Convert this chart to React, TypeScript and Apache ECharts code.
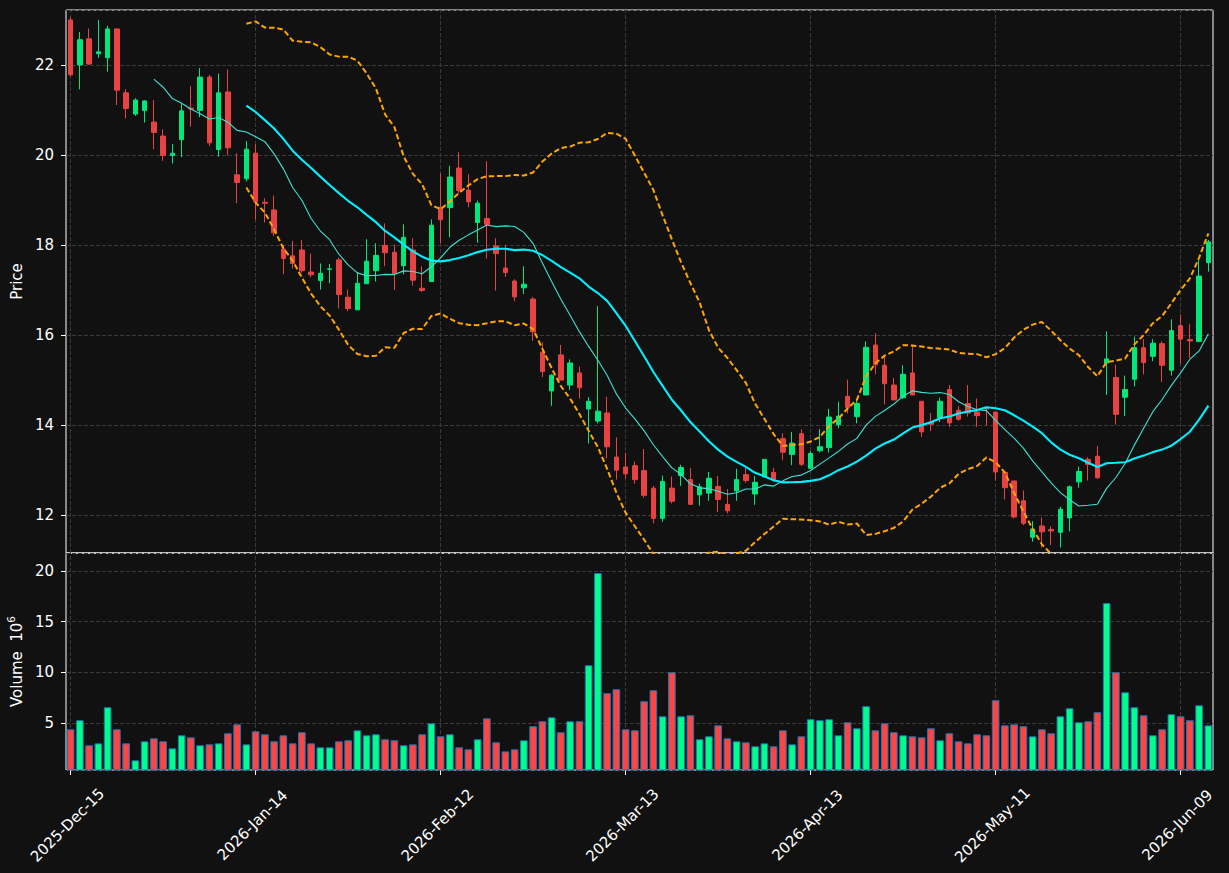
import React, { useEffect, useRef } from "react";
import * as echarts from "echarts";

// ---- categories: trading days (NYSE calendar) ----
const MONTH_DAYS: [number, string, number[]][] = [
  [2025, "Dec", [15, 16, 17, 18, 19, 22, 23, 24, 26, 29, 30, 31]],
  [2026, "Jan", [2, 5, 6, 7, 8, 9, 12, 13, 14, 15, 16, 20, 21, 22, 23, 26, 27, 28, 29, 30]],
  [2026, "Feb", [2, 3, 4, 5, 6, 9, 10, 11, 12, 13, 17, 18, 19, 20, 23, 24, 25, 26, 27]],
  [2026, "Mar", [2, 3, 4, 5, 6, 9, 10, 11, 12, 13, 16, 17, 18, 19, 20, 23, 24, 25, 26, 27, 30, 31]],
  [2026, "Apr", [1, 2, 6, 7, 8, 9, 10, 13, 14, 15, 16, 17, 20, 21, 22, 23, 24, 27, 28, 29, 30]],
  [2026, "May", [1, 4, 5, 6, 7, 8, 11, 12, 13, 14, 15, 18, 19, 20, 21, 22, 26, 27, 28, 29]],
  [2026, "Jun", [1, 2, 3, 4, 5, 8, 9, 10, 11, 12]],
];
const DATES: string[] = MONTH_DAYS.flatMap(([y, m, ds]) =>
  ds.map((d) => `${y}-${m}-${String(d).padStart(2, "0")}`)
);

// ---- OHLC + volume (millions) ----
const OPEN = [
  23.0, 22.0, 22.58, 22.25, 22.16, 22.8, 21.38, 20.91, 20.99, 20.73,
  20.42, 19.99, 20.34, 21.04, 20.99, 21.73, 20.12, 21.4, 19.56, 19.47,
  20.04, 18.95, 18.78, 17.91, 17.76, 17.89, 17.4, 17.21, 17.46, 17.67,
  16.84, 16.56, 17.14, 17.43, 17.99, 17.84, 17.54, 17.89, 17.04, 17.19,
  18.84, 18.83, 19.71, 19.22, 18.5, 18.59, 17.98, 17.49, 17.2, 17.05,
  16.8, 15.62, 14.76, 15.56, 14.89, 15.16, 14.36, 14.09, 14.27, 13.29,
  13.07, 13.1, 12.99, 12.6, 11.93, 12.6, 12.88, 12.79, 12.45, 12.49,
  12.64, 12.24, 12.54, 12.9, 12.47, 12.85, 12.95, 13.7, 13.35, 13.81,
  13.04, 13.43, 13.5, 14.01, 14.64, 14.19, 14.67, 15.78, 15.33, 14.89,
  14.61, 15.16, 14.53, 14.07, 14.17, 14.79, 14.33, 14.48, 14.29, 14.39,
  14.29, 12.95, 12.76, 12.32, 11.51, 11.76, 11.68, 11.62, 11.94, 12.74,
  13.24, 13.31, 15.38, 15.06, 14.62, 15.02, 15.72, 15.53, 15.81, 15.22,
  16.21, 15.9, 15.86, 17.61,
];
const CLOSE = [
  21.78, 22.56, 22.02, 22.29, 22.8, 21.44, 21.03, 21.22, 21.2, 20.5,
  19.99, 20.04, 20.98, 21.02, 21.73, 20.27, 21.38, 20.16, 19.39, 20.13,
  18.96, 18.93, 18.27, 17.7, 17.59, 17.43, 17.34, 17.37, 17.47, 16.9,
  16.59, 17.15, 17.64, 17.77, 17.83, 17.37, 18.17, 17.22, 16.99, 18.44,
  18.56, 19.51, 19.21, 18.96, 18.93, 18.46, 17.81, 17.39, 16.85, 17.13,
  16.07, 15.19, 15.11, 15.0, 15.38, 14.83, 14.53, 14.31, 13.52, 13.0,
  12.92, 12.79, 12.44, 11.93, 12.75, 12.31, 13.06, 12.24, 12.63, 12.82,
  12.35, 12.1, 12.79, 12.77, 12.73, 13.24, 12.79, 13.4, 13.6, 13.13,
  13.37, 13.52, 14.18, 14.2, 14.39, 14.48, 15.73, 15.34, 14.92, 14.56,
  15.13, 14.67, 13.85, 14.02, 14.53, 14.05, 14.13, 14.27, 14.21, 14.36,
  12.96, 12.61, 11.96, 11.82, 11.69, 11.63, 11.65, 12.13, 12.63, 12.97,
  13.13, 12.83, 15.47, 14.24, 14.79, 15.72, 15.39, 15.82, 15.33, 16.1,
  15.91, 15.87, 17.31, 18.07,
];
const LOW = [
  21.75, 21.46, 22.0, 22.16, 21.85, 21.11, 20.81, 20.87, 20.72, 20.13,
  19.87, 19.81, 19.95, 20.63, 20.84, 20.2, 19.96, 19.99, 18.93, 19.41,
  18.56, 18.5, 18.2, 17.35, 17.48, 17.39, 17.28, 17.01, 17.15, 16.59,
  16.53, 16.56, 17.14, 17.19, 17.53, 17.0, 17.35, 17.1, 16.96, 17.19,
  18.04, 18.17, 19.15, 18.84, 18.05, 17.7, 16.99, 17.29, 16.75, 16.91,
  15.87, 15.07, 14.43, 15.0, 14.78, 14.59, 13.59, 14.04, 13.26, 12.79,
  12.81, 12.7, 12.39, 11.82, 11.85, 12.26, 12.65, 12.24, 12.21, 12.32,
  12.07, 12.04, 12.32, 12.72, 12.23, 12.85, 12.74, 13.22, 13.11, 13.09,
  13.04, 13.4, 13.39, 13.93, 14.26, 14.04, 14.67, 15.13, 14.46, 14.56,
  14.58, 14.67, 13.74, 13.87, 14.07, 13.96, 14.1, 14.19, 13.96, 13.99,
  12.77, 12.35, 11.93, 11.78, 11.41, 11.28, 11.34, 11.28, 11.64, 12.61,
  12.77, 12.81, 14.67, 14.01, 14.2, 14.86, 15.13, 15.42, 14.96, 15.1,
  15.36, 15.49, 15.86, 17.41,
];
const HIGH = [
  23.07, 22.73, 22.81, 23.0, 22.87, 22.81, 21.46, 21.26, 21.22, 21.22,
  20.57, 20.24, 21.13, 21.53, 21.93, 21.78, 21.81, 21.9, 20.04, 20.31,
  20.24, 19.04, 19.1, 18.0, 18.09, 18.11, 17.81, 17.59, 17.58, 17.72,
  17.01, 17.39, 18.13, 18.04, 18.48, 18.01, 18.46, 18.15, 17.53, 18.57,
  19.59, 19.76, 20.06, 19.57, 18.99, 19.86, 18.15, 18.01, 17.24, 17.53,
  16.85, 15.84, 15.13, 15.78, 15.46, 15.3, 14.62, 16.64, 14.63, 13.73,
  13.39, 13.19, 13.47, 12.65, 12.88, 12.86, 13.12, 13.05, 12.7, 12.96,
  12.87, 12.58, 13.03, 13.05, 12.87, 13.24, 13.05, 13.82, 13.85, 13.91,
  13.42, 13.91, 14.36, 14.52, 15.01, 14.58, 15.86, 16.04, 15.52, 15.05,
  15.33, 15.76, 14.53, 14.27, 14.61, 14.89, 14.42, 14.89, 14.59, 14.4,
  14.29, 12.95, 12.76, 12.55, 11.87, 11.95, 11.75, 12.19, 12.66, 13.08,
  13.29, 13.54, 16.08, 15.34, 15.1, 15.97, 15.91, 15.91, 15.86, 16.35,
  16.46, 16.24, 17.67, 18.11,
];
const VOLUME = [
  4.41, 5.3, 2.84, 3.03, 6.58, 4.41, 3.03, 1.36, 3.23, 3.52,
  3.23, 2.54, 3.82, 3.62, 2.84, 2.93, 3.03, 4.02, 4.9, 2.93,
  4.21, 3.92, 3.23, 3.82, 3.03, 4.12, 3.03, 2.64, 2.64, 3.23,
  3.33, 4.31, 3.82, 3.92, 3.43, 3.33, 2.84, 2.93, 3.92, 5.0,
  3.72, 3.92, 2.64, 2.44, 3.43, 5.49, 3.13, 2.24, 2.44, 3.33,
  4.71, 5.2, 5.59, 4.12, 5.2, 5.2, 10.71, 19.77, 7.96, 8.35,
  4.41, 4.31, 7.17, 8.25, 5.69, 10.02, 5.69, 5.79, 3.43, 3.72,
  4.8, 3.52, 3.23, 3.13, 2.74, 3.03, 2.74, 4.31, 2.93, 3.72,
  5.4, 5.3, 5.4, 3.82, 5.1, 4.51, 6.68, 4.31, 5.0, 4.12,
  3.82, 3.72, 3.62, 4.51, 3.33, 4.02, 3.23, 3.03, 3.92, 3.82,
  7.27, 4.8, 4.9, 4.71, 3.72, 4.41, 4.02, 5.69, 6.48, 5.1,
  5.2, 6.09, 16.82, 10.02, 8.05, 6.58, 5.79, 3.82, 4.41, 5.89,
  5.69, 5.3, 6.77, 4.8,
];

const MA_FAST = 10;
const MA_SLOW = 20;
const BB_K = 2;
const PRICE_MIN = 11.16;
const PRICE_MAX = 23.22;
const TICK_EVERY = 20;

// ---- style ----
const BG = "#111111";
const FG = "#ffffff";
const GRIDC = "#3a3a3a";
const FONT = "DejaVu Sans";
const FS = 15;
const C_UP = "#00e87c";
const C_DN = "#e84343";
const V_UP = "#00ff88";
const V_DN = "#ff4444";

function sma(arr: number[], n: number): (number | string)[] {
  return arr.map((_, i) => {
    if (i < n - 1) return "-";
    let s = 0;
    for (let j = i - n + 1; j <= i; j++) s += arr[j];
    return s / n;
  });
}
function band(arr: number[], n: number, k: number, sign: number): (number | string)[] {
  return arr.map((_, i) => {
    if (i < n - 1) return "-";
    let s = 0;
    for (let j = i - n + 1; j <= i; j++) s += arr[j];
    const m = s / n;
    let v = 0;
    for (let j = i - n + 1; j <= i; j++) v += (arr[j] - m) * (arr[j] - m);
    return m + sign * k * Math.sqrt(v / n);
  });
}

export default function App() {
  const ref = useRef<HTMLDivElement>(null);
  useEffect(() => {
    if (!ref.current) return;
    const chart = echarts.init(ref.current, undefined, { renderer: "svg" });
    const tickFn = (idx: number) => idx % TICK_EVERY === 0;
    const tickCats = DATES.filter((_, i) => i % TICK_EVERY === 0);
    const vmin = 0.3 * Math.min(...VOLUME);
    const vmax = 1.1 * Math.max(...VOLUME);
    const gridMark = (xi: number, yi: number) => ({
      type: "line",
      xAxisIndex: xi,
      yAxisIndex: yi,
      data: DATES.map(() => "-"),
      silent: true,
      z: 1,
      markLine: {
        silent: true,
        z: 1,
        symbol: ["none", "none"],
        label: { show: false },
        lineStyle: { color: GRIDC, type: [4, 2], width: 1 },
        emphasis: { disabled: true },
        data: tickCats.map((c) => ({ xAxis: c })),
      },
    });
    const yAxisCommon = {
      type: "value",
      axisLine: { show: false },
      axisTick: { show: true, length: 5, lineStyle: { color: FG } },
      axisLabel: {
        color: FG,
        fontSize: FS,
        fontFamily: FONT,
        margin: 12,
        showMinLabel: false,
        showMaxLabel: false,
      },
      splitLine: { show: true, lineStyle: { color: GRIDC, type: [4, 2], width: 1 } },
      nameLocation: "middle",
    };
    const option: any = {
      animation: false,
      backgroundColor: BG,
      grid: [
        {
          left: 66, top: 10, width: 1147, height: 543,
          show: true, borderColor: FG, borderWidth: 1,
          containLabel: false, outerBoundsMode: "none",
        },
        {
          left: 66, top: 553, width: 1147, height: 217,
          show: true, borderColor: FG, borderWidth: 1,
          containLabel: false, outerBoundsMode: "none",
        },
      ],
      xAxis: [
        {
          type: "category",
          gridIndex: 0,
          data: DATES,
          boundaryGap: true,
          axisLine: { show: false },
          axisTick: { show: false },
          axisLabel: { show: false },
          splitLine: { show: false },
        },
        {
          type: "category",
          gridIndex: 1,
          data: DATES,
          boundaryGap: true,
          axisLine: { show: false },
          axisTick: {
            show: true,
            interval: tickFn,
            alignWithLabel: true,
            length: 5,
            lineStyle: { color: FG },
          },
          axisLabel: {
            interval: tickFn,
            rotate: 45,
            align: "center",
            verticalAlign: "middle",
            margin: 52,
            padding: [0, 9, 9, 0],
            color: FG,
            fontSize: FS,
            fontFamily: FONT,
            hideOverlap: false,
          },
          splitLine: { show: false },
        },
      ],
      yAxis: [
        {
          ...yAxisCommon,
          gridIndex: 0,
          min: PRICE_MIN,
          max: PRICE_MAX,
          splitNumber: 6,
          name: "Price",
          nameGap: 36,
          nameTextStyle: { color: FG, fontSize: FS, fontFamily: FONT },
        },
        {
          ...yAxisCommon,
          gridIndex: 1,
          min: vmin,
          max: vmax,
          splitNumber: 4,
          name: "{a|Volume  10}{b|6}",
          nameGap: 39,
          nameTextStyle: {
            color: FG,
            fontFamily: FONT,
            rich: {
              a: { fontSize: FS, color: FG, fontFamily: FONT, verticalAlign: "bottom", lineHeight: 19 },
              b: { fontSize: 10.5, color: FG, fontFamily: FONT, verticalAlign: "top", lineHeight: 12 },
            },
          },
        },
      ],
      series: [
        gridMark(0, 0),
        gridMark(1, 1),
        {
          type: "candlestick",
          xAxisIndex: 0,
          yAxisIndex: 0,
          barWidth: 5,
          z: 3,
          data: OPEN.map((o, i) => [o, CLOSE[i], LOW[i], HIGH[i]]),
          itemStyle: {
            color: C_UP,
            color0: C_DN,
            borderColor: C_UP,
            borderColor0: C_DN,
            borderWidth: 1,
          },
        },
        {
          type: "line",
          name: "MA10",
          xAxisIndex: 0,
          yAxisIndex: 0,
          data: sma(CLOSE, MA_FAST),
          symbol: "none",
          z: 4,
          lineStyle: { color: "#40e0d0", width: 1.1 },
        },
        {
          type: "line",
          name: "MA20",
          xAxisIndex: 0,
          yAxisIndex: 0,
          data: sma(CLOSE, MA_SLOW),
          symbol: "none",
          z: 4,
          lineStyle: { color: "#00f0ff", width: 2.1 },
        },
        {
          type: "line",
          name: "BB upper",
          xAxisIndex: 0,
          yAxisIndex: 0,
          data: band(CLOSE, MA_SLOW, BB_K, 1),
          symbol: "none",
          z: 4,
          lineStyle: { color: "#ffa500", width: 2, type: [5.5, 2.8] },
        },
        {
          type: "line",
          name: "BB lower",
          xAxisIndex: 0,
          yAxisIndex: 0,
          data: band(CLOSE, MA_SLOW, BB_K, -1),
          symbol: "none",
          z: 4,
          lineStyle: { color: "#ffa500", width: 2, type: [5.5, 2.8] },
        },
        {
          type: "bar",
          xAxisIndex: 1,
          yAxisIndex: 1,
          barWidth: 7.6,
          z: 3,
          data: VOLUME.map((v, i) => ({
            value: v,
            itemStyle: {
              color: CLOSE[i] >= OPEN[i] ? V_UP : V_DN,
              borderColor: "#1f77b4",
              borderWidth: 1,
            },
          })),
        },
      ],
    };
    chart.setOption(option);
    return () => chart.dispose();
  }, []);
  return (
    <div
      ref={ref}
      style={{ position: "absolute", left: 0, top: 0, width: 1229, height: 873 }}
    />
  );
}
